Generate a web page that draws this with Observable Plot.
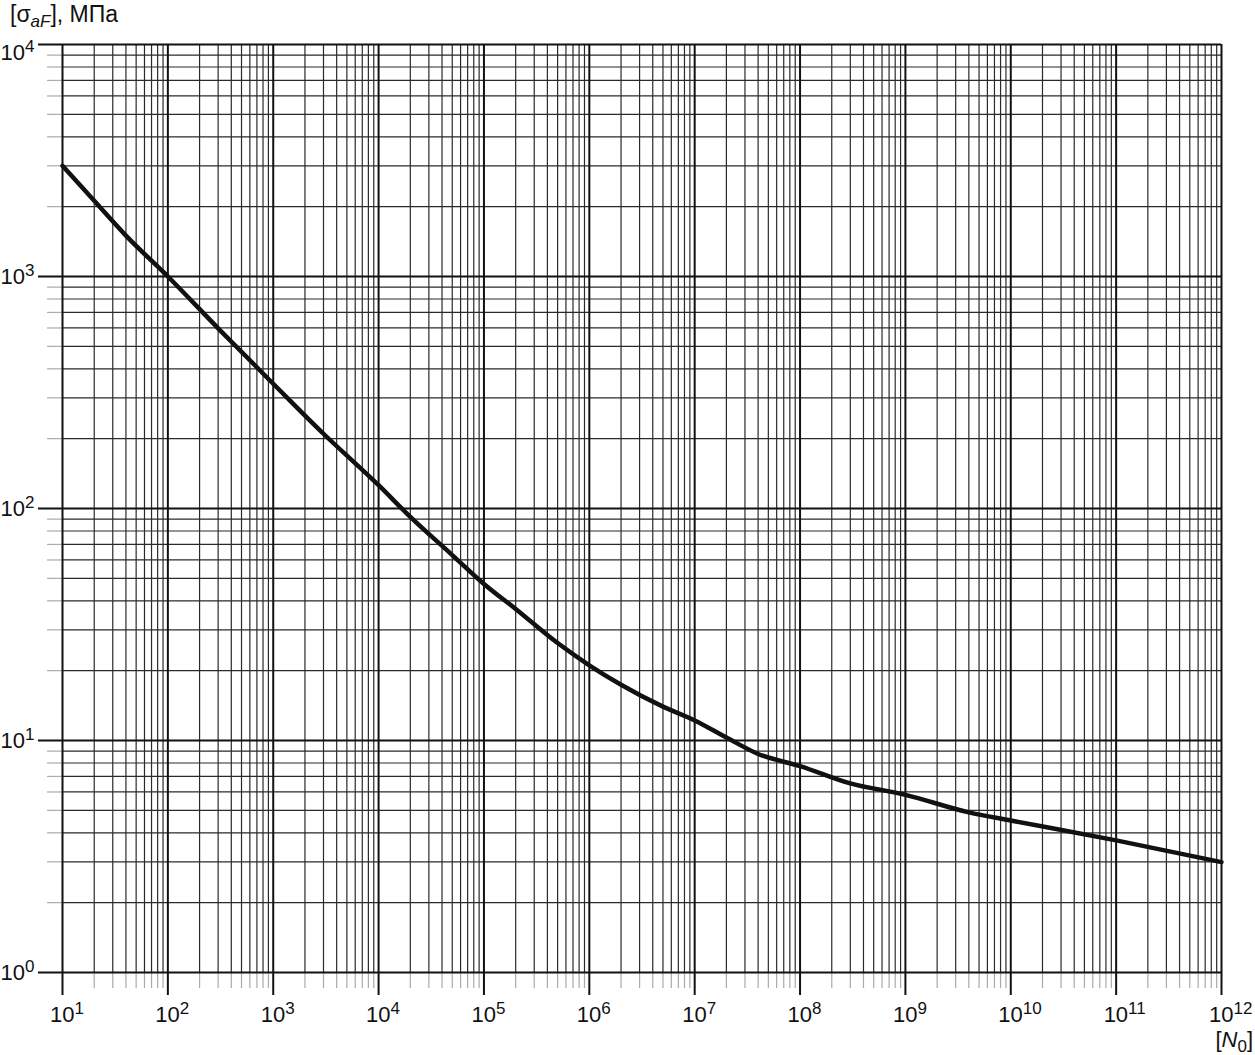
<!DOCTYPE html>
<html>
<head>
<meta charset="utf-8">
<script src="https://cdn.jsdelivr.net/npm/d3@7"></script>
<script src="https://cdn.jsdelivr.net/npm/@observablehq/plot@0.6"></script>
<style>
  body { margin: 0; background: #fff; font-family: "Liberation Sans", Arial, sans-serif; }
  #wrap { position: relative; width: 1255px; height: 1055px; overflow: hidden; }
  #wrap svg { position: absolute; left: 0; top: 0; }
  .ttl { position: absolute; font-size: 23px; color: #111; white-space: nowrap; line-height: 26px; }
  .ttl sub { font-size: 17px; position: relative; top: 5px; vertical-align: baseline; line-height: 0; }
</style>
</head>
<body>
<div id="wrap">
  <div class="ttl" style="left:10px; top:1px;">[σ<sub><i>aF</i></sub>], МПа</div>
  <div class="ttl" style="right:2px; top:1027px; font-size:22px;">[<i>N</i><sub>0</sub>]</div>
</div>
<script>
// Number of cycles N0 and allowable stress [σaF], MPa
const cycles = [1e1, 2e1, 4e1, 1e2, 3e2, 1e3, 3e3, 1e4, 2e4, 5e4, 1e5, 2e5, 5e5, 1e6, 2e6, 5e6, 1e7, 2e7, 4e7, 1e8, 3e8, 1e9, 4e9, 1e10, 1e11, 1e12];
const stress = [3000, 2120, 1500, 1000, 598, 345, 210, 126, 92, 63, 47.3, 36.9, 26.3, 21.1, 17.4, 14.0, 12.2, 10.3, 8.75, 7.76, 6.53, 5.83, 4.9, 4.52, 3.71, 2.99];

// Decade exponents used for the axis tick labels
const xExponents = [1, 2, 3, 4, 5, 6, 7, 8, 9, 10, 11, 12];
const yExponents = [0, 1, 2, 3, 4];
const minorMultipliers = [2, 3, 4, 5, 6, 7, 8, 9];

const xMajor = xExponents.map(e => 10 ** e);
const yMajor = yExponents.map(e => 10 ** e);
const xMinor = xExponents.slice(0, -1).flatMap(e => minorMultipliers.map(m => m * 10 ** e));
const yMinor = yExponents.slice(0, -1).flatMap(e => minorMultipliers.map(m => m * 10 ** e));

const data = cycles.map((n, i) => ({n, s: stress[i]}));
const fmt = d => "10^" + Math.round(Math.log10(d));

const chart = Plot.plot({
  width: 1255,
  height: 1055,
  marginTop: 44,
  marginLeft: 62,
  marginRight: 34,
  marginBottom: 83,
  x: {type: "log", domain: [10, 1e12]},
  y: {type: "log", domain: [1, 1e4]},
  style: {fontFamily: "Liberation Sans, Arial, sans-serif", fontSize: "22px", background: "#fff", color: "#111"},
  marks: [
    // minor grid
    Plot.ruleX(xMinor, {stroke: "#2a2a2a", strokeWidth: 1.2}),
    Plot.ruleY(yMinor, {stroke: "#2a2a2a", strokeWidth: 1.2}),
    // minor ticks outside frame
    Plot.axisX(xMinor, {tickSize: 16, tickFormat: () => "", stroke: "#aaa", strokeWidth: 1.2, label: null}),
    Plot.axisY(yMinor, {tickSize: 15, tickFormat: () => "", stroke: "#aaa", strokeWidth: 1.2, label: null}),
    // major grid
    Plot.ruleX(xMajor, {stroke: "#111", strokeWidth: 2}),
    Plot.ruleY(yMajor, {stroke: "#111", strokeWidth: 2}),
    // major ticks + labels
    Plot.axisX(xMajor, {tickSize: 23, tickPadding: 11, tickFormat: fmt, stroke: "#111", strokeWidth: 2,
      textAnchor: "start", fontSize: 22, label: null, fill: "#111"}),
    Plot.axisY(yMajor, {tickSize: 24, tickPadding: 4, tickFormat: fmt, stroke: "#111", strokeWidth: 2,
      fontSize: 22, label: null, fill: "#111"}),
    // curve
    Plot.line(data, {x: "n", y: "s", stroke: "#111", strokeWidth: 4.5, curve: "monotone-x", strokeLinejoin: "round"})
  ]
});

document.getElementById("wrap").prepend(chart);

// Render "10^k" as 10 with a superscript exponent
const svgNS = "http://www.w3.org/2000/svg";
chart.querySelectorAll('g[aria-label="x-axis tick label"] text, g[aria-label="y-axis tick label"] text').forEach(t => {
  const s = t.textContent;
  if (!s.includes("^")) return;
  const [base, exp] = s.split("^");
  t.textContent = "";
  t.style.fontSize = "22px";
  const b = document.createElementNS(svgNS, "tspan");
  b.textContent = base;
  b.style.fontSize = "22px";
  const e = document.createElementNS(svgNS, "tspan");
  e.textContent = exp;
  e.style.fontSize = "17px";
  e.setAttribute("dy", "-8");
  t.appendChild(b);
  t.appendChild(e);
  const isX = !!t.closest('g[aria-label="x-axis tick label"]');
  if (isX) b.setAttribute("dx", "-12.5");
  if (!isX && exp === "4") b.setAttribute("dy", "8");
});
</script>
</body>
</html>
